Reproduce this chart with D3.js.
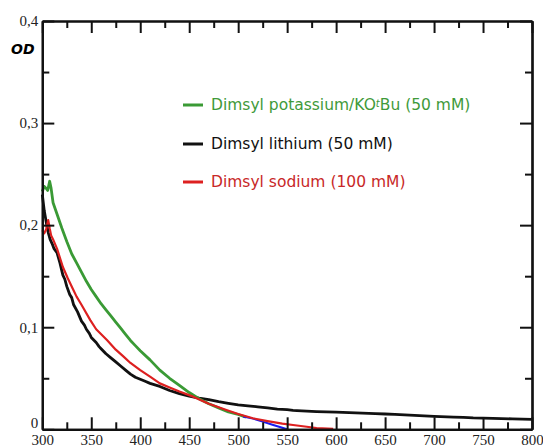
<!DOCTYPE html>
<html>
<head>
<meta charset="utf-8">
<script src="https://cdn.jsdelivr.net/npm/d3@7"></script>
<style>
  body { margin: 0; background: #fff; }
  svg { display: block; }
  .tick text { font-family: "Liberation Serif", serif; font-size: 15px; fill: #222; }
  .legend text { font-family: "DejaVu Sans", sans-serif; font-size: 15.5px; }
</style>
</head>
<body>
<div id="chart"></div>
<script>
// axis ticks
const xMajor = [300, 350, 400, 450, 500, 550, 600, 650, 700, 750, 800];
const xMinor = [325, 375, 425, 475, 525, 575, 625, 675, 725, 775];
const yMajor = [0, 0.1, 0.2, 0.3, 0.4];
const yMinor = [0.05, 0.15, 0.25, 0.35];
const yLabels = ["0", "0,1", "0,2", "0,3", "0,4"];

// Dimsyl lithium (black)
const liWl = [300, 302, 304, 306, 308, 310, 312, 315, 318, 321, 323, 325, 328, 330, 332, 336, 340, 343, 345, 348, 350, 355, 358, 360, 365, 370, 375, 380, 385, 390, 395, 400, 405, 410, 420, 430, 440, 450, 460, 470, 480, 490, 500, 510, 520, 530, 540, 550, 556, 560, 570, 580, 590, 600, 620, 640, 650, 660, 680, 700, 720, 730, 740, 760, 780, 800];
const liOd = [0.230, 0.214, 0.203, 0.193, 0.186, 0.182, 0.177, 0.173, 0.163, 0.151, 0.147, 0.140, 0.132, 0.129, 0.122, 0.115, 0.106, 0.102, 0.098, 0.094, 0.090, 0.085, 0.081, 0.079, 0.074, 0.070, 0.066, 0.062, 0.058, 0.054, 0.051, 0.049, 0.047, 0.045, 0.042, 0.038, 0.035, 0.0325, 0.0305, 0.029, 0.027, 0.0255, 0.024, 0.023, 0.022, 0.021, 0.0198, 0.0192, 0.0185, 0.0183, 0.0178, 0.0174, 0.0170, 0.0168, 0.0160, 0.0154, 0.0150, 0.0146, 0.0136, 0.0126, 0.0120, 0.0117, 0.0112, 0.0108, 0.0102, 0.0098];

// Dimsyl potassium/KOtBu (green)
const kWl = [300, 302, 304, 305.5, 307.5, 309, 311, 315, 320, 325, 330, 335, 340, 345, 350, 355, 360, 365, 370, 375, 380, 385, 390, 395, 400, 410, 420, 430, 440, 450, 460, 470, 480, 490, 500, 508];
const kOd = [0.233, 0.238, 0.236, 0.234, 0.243, 0.236, 0.222, 0.211, 0.197, 0.184, 0.172, 0.163, 0.154, 0.145, 0.137, 0.130, 0.123, 0.117, 0.111, 0.105, 0.099, 0.093, 0.087, 0.082, 0.077, 0.068, 0.058, 0.050, 0.043, 0.036, 0.030, 0.025, 0.021, 0.017, 0.0145, 0.012];

// blue tail
const blueWl = [505, 515, 525, 535, 545, 550];
const blueOd = [0.0125, 0.0105, 0.0075, 0.0045, 0.0015, 0.0];

// Dimsyl sodium (red)
const naWl = [300, 302, 304, 306, 307.5, 309, 311, 315, 321, 326, 331, 335, 340, 349, 355, 366, 375, 383, 390, 400, 410, 420, 430, 440, 454, 470, 488, 500, 515, 530, 545, 556, 570, 580, 597];
const naOd = [0.195, 0.192, 0.196, 0.205, 0.197, 0.190, 0.186, 0.177, 0.159, 0.148, 0.138, 0.130, 0.122, 0.107, 0.098, 0.0875, 0.078, 0.0712, 0.065, 0.058, 0.0516, 0.045, 0.041, 0.037, 0.032, 0.025, 0.0189, 0.015, 0.0108, 0.008, 0.0055, 0.0042, 0.0025, 0.0012, 0.0005];

const legendNames = ["Dimsyl potassium/KO", "Dimsyl lithium (50 mM)", "Dimsyl sodium (100 mM)"];
const legendColors = ["#3a9a35", "#111", "#dd2020"];
const legendText = ["#3f9a3a", "#111", "#c82828"];

const width = 543, height = 447;
const x = d3.scaleLinear().domain([300, 800]).range([42.3, 532]);
const y = d3.scaleLinear().domain([0, 0.4]).range([429.3, 21]);

const svg = d3.select("#chart").append("svg")
  .attr("width", width).attr("height", height);

function zip(a, b) { return a.map((v, i) => [v, b[i]]); }
const line = d3.line().x(d => x(d[0])).y(d => y(d[1]));

// curves
const series = [
  { data: zip(liWl, liOd), color: "#111", w: 2.8 },
  { data: zip(kWl, kOd), color: "#3a9a35", w: 2.8 },
  { data: zip(blueWl, blueOd), color: "#1a1aee", w: 2 },
  { data: zip(naWl, naOd), color: "#dd2020", w: 2.2 }
];
svg.append("g").selectAll("path").data(series).join("path")
  .attr("d", d => line(d.data))
  .attr("fill", "none")
  .attr("stroke", d => d.color)
  .attr("stroke-width", d => d.w)
  .attr("stroke-linejoin", "round");

// axes: major + minor, mirrored on all four sides
function styleAxis(g) {
  g.selectAll("line").attr("stroke", "#111").attr("stroke-width", 2);
  g.select(".domain").attr("stroke", "#111").attr("stroke-width", 2.2);
}
svg.append("g").attr("transform", `translate(0,${y(0)})`)
  .call(d3.axisBottom(x).tickValues(xMajor).tickSize(-12).tickSizeOuter(0).tickPadding(5).tickFormat(d3.format("d")))
  .call(styleAxis);
svg.append("g").attr("transform", `translate(0,${y(0)})`)
  .call(d3.axisBottom(x).tickValues(xMinor).tickSize(-7).tickSizeOuter(0).tickFormat(""))
  .call(styleAxis);
svg.append("g").attr("transform", `translate(0,${y(0.4)})`)
  .call(d3.axisTop(x).tickValues(xMajor).tickSize(-12).tickSizeOuter(0).tickFormat(""))
  .call(styleAxis);
svg.append("g").attr("transform", `translate(0,${y(0.4)})`)
  .call(d3.axisTop(x).tickValues(xMinor).tickSize(-7).tickSizeOuter(0).tickFormat(""))
  .call(styleAxis);
const leftAxis = svg.append("g").attr("transform", `translate(${x(300)},0)`)
  .call(d3.axisLeft(y).tickValues(yMajor).tickSize(-12).tickSizeOuter(0).tickPadding(4)
    .tickFormat((d, i) => yLabels[i]))
  .call(styleAxis);
// nudge the "0" label up so it clears the "300" below it
leftAxis.selectAll(".tick text").filter(d => d === 0).attr("dy", "-0.12em");
svg.append("g").attr("transform", `translate(${x(300)},0)`)
  .call(d3.axisLeft(y).tickValues(yMinor).tickSize(-7).tickSizeOuter(0).tickFormat(""))
  .call(styleAxis);
svg.append("g").attr("transform", `translate(${x(800)},0)`)
  .call(d3.axisRight(y).tickValues(yMajor).tickSize(-12).tickSizeOuter(0).tickFormat(""))
  .call(styleAxis);
svg.append("g").attr("transform", `translate(${x(800)},0)`)
  .call(d3.axisRight(y).tickValues(yMinor).tickSize(-7).tickSizeOuter(0).tickFormat(""))
  .call(styleAxis);

// y axis title
svg.append("text")
  .attr("x", 11).attr("y", 54)
  .attr("font-family", "DejaVu Sans, sans-serif")
  .attr("font-size", 14).attr("font-weight", "bold").attr("font-style", "italic")
  .text("OD");

// legend
const legend = svg.append("g").attr("class", "legend");
const legY = [105, 144, 182];
legendNames.forEach((name, i) => {
  legend.append("line")
    .attr("x1", 183).attr("x2", 203).attr("y1", legY[i]).attr("y2", legY[i])
    .attr("stroke", legendColors[i]).attr("stroke-width", 3);
  const t = legend.append("text")
    .attr("x", 211).attr("y", legY[i]).attr("dy", "0.35em")
    .attr("fill", legendText[i]);
  if (i === 0) {
    t.append("tspan").text(name);
    t.append("tspan").attr("baseline-shift", "35%").attr("font-size", 10).attr("font-style", "italic").text("t");
    t.append("tspan").text("Bu (50 mM)");
  } else {
    t.text(name);
  }
});
</script>
</body>
</html>
